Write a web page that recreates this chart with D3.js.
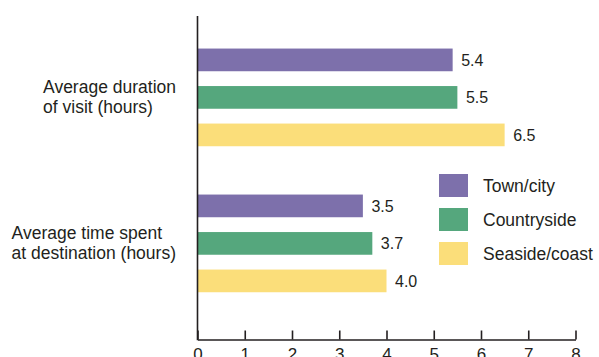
<!DOCTYPE html>
<html>
<head>
<meta charset="utf-8">
<script src="https://cdn.jsdelivr.net/npm/d3@7"></script>
<style>
  html, body { margin: 0; padding: 0; background: #fff; }
  svg { display: block; font-family: "Liberation Sans", Arial, sans-serif; }
</style>
</head>
<body>
<svg id="chart" width="599" height="357"></svg>
<script>
// Measures (one row of bars each) and their wrapped label lines
const categories = ["duration", "destination"];
const categoryLines = [
  ["Average duration", "of visit (hours)"],
  ["Average time spent", "at destination (hours)"]
];
const seriesNames = ["Town/city", "Countryside", "Seaside/coast"];
const townCity = [5.4, 3.5];
const countryside = [5.5, 3.7];
const seasideCoast = [6.5, 4.0];
const xTicks = [0, 1, 2, 3, 4, 5, 6, 7, 8];
const colors = ["#7d70ab", "#55a77d", "#fbde7a"];

const seriesValues = [townCity, countryside, seasideCoast];

const svg = d3.select("#chart");
const ink = "#231f20";

const x = d3.scaleLinear().domain([0, 8]).range([197.5, 575.5]);

const yGroup = d3.scaleBand().domain(categories).range([24.4, 316.4]);
const ySeries = d3.scaleBand().domain(seriesNames)
  .range([0, yGroup.bandwidth()])
  .paddingInner(0.395).paddingOuter(0.644);

// Bars
const rows = [];
categories.forEach((c, ci) => {
  seriesNames.forEach((s, si) => {
    rows.push({ cat: c, series: s, value: seriesValues[si][ci], color: colors[si] });
  });
});

svg.append("g").selectAll("rect").data(rows).join("rect")
  .attr("x", x(0))
  .attr("y", d => yGroup(d.cat) + ySeries(d.series))
  .attr("width", d => x(d.value) - x(0))
  .attr("height", ySeries.bandwidth())
  .attr("fill", d => d.color);

// Value labels
svg.append("g").selectAll("text").data(rows).join("text")
  .attr("x", d => x(d.value) + 8.5)
  .attr("y", d => yGroup(d.cat) + ySeries(d.series) + ySeries.bandwidth() / 2)
  .attr("dy", "0.36em")
  .attr("font-size", 16)
  .attr("fill", ink)
  .text(d => d.value.toFixed(1));

// Bottom axis with ticks pointing up
const axisY = 339.5;
const xAxis = d3.axisBottom(x).tickValues(xTicks).tickFormat(d3.format("d"))
  .tickSizeInner(-9).tickSizeOuter(0).tickPadding(8);
const gx = svg.append("g").attr("transform", `translate(0,${axisY})`).call(xAxis);
gx.select(".domain").attr("stroke", ink).attr("stroke-width", 1.6);
gx.selectAll(".tick line").attr("stroke", ink).attr("stroke-width", 1.6);
gx.selectAll(".tick text").attr("font-size", 17).attr("fill", ink)
  .attr("font-family", "'Liberation Sans', Arial, sans-serif");

// Vertical baseline
svg.append("line")
  .attr("x1", x(0)).attr("x2", x(0))
  .attr("y1", 16).attr("y2", axisY + 0.8)
  .attr("stroke", ink).attr("stroke-width", 1.6);

// Category labels: left-aligned lines, block right-aligned near the axis
const catG = svg.append("g");
categories.forEach((c, ci) => {
  const cy = yGroup(c) + yGroup.bandwidth() / 2;
  const t = catG.append("text")
    .attr("font-size", 17.5)
    .attr("fill", ink);
  categoryLines[ci].forEach((line, li) => {
    t.append("tspan").attr("x", 0).attr("y", cy - 4 + li * 20).text(line);
  });
  const w = t.node().getBBox().width;
  t.attr("transform", `translate(${176 - w},0)`);
});

// Legend
const legend = svg.append("g");
seriesNames.forEach((s, i) => {
  const top = 174 + i * 34;
  legend.append("rect")
    .attr("x", 439).attr("y", top)
    .attr("width", 29).attr("height", 23)
    .attr("fill", colors[i]);
  legend.append("text")
    .attr("x", 483).attr("y", top + 11.5)
    .attr("dy", "0.36em")
    .attr("font-size", 17.5)
    .attr("fill", ink)
    .text(s);
});
</script>
</body>
</html>
